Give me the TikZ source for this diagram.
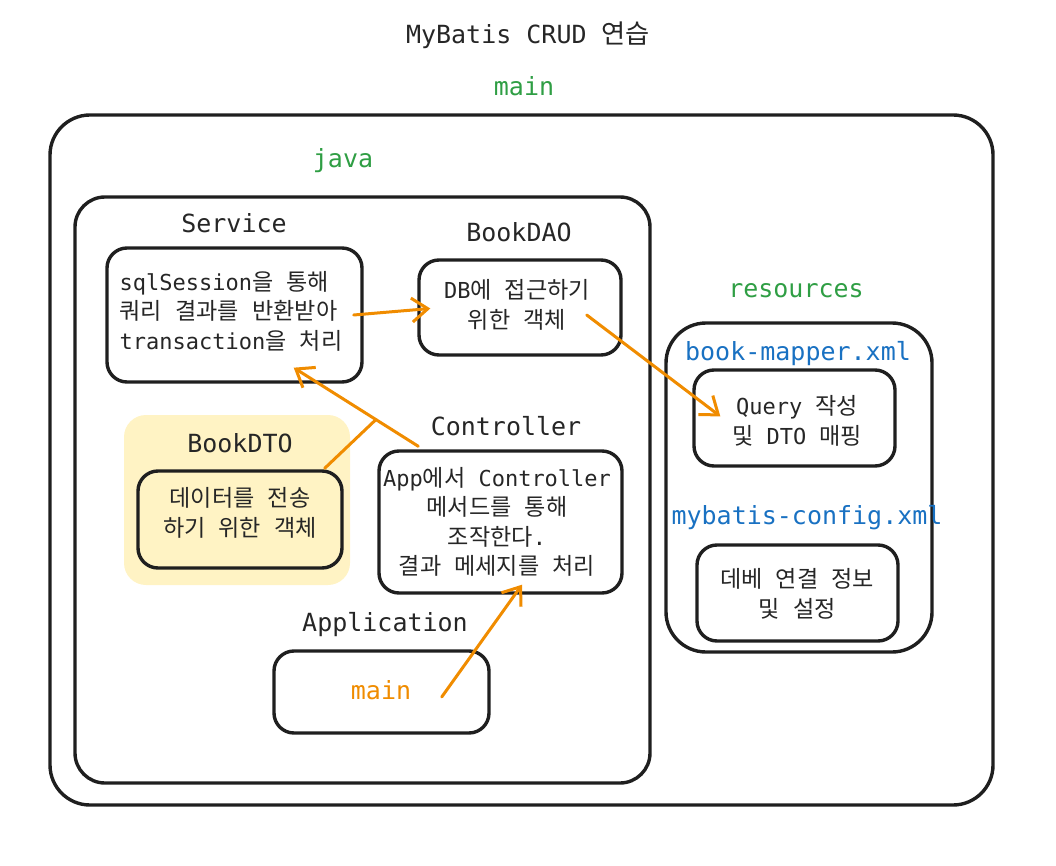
\documentclass[tikz,border=0pt]{standalone}
\usepackage{fontspec}
\setmainfont{DejaVu Sans Mono}
\newfontfamily\krfont[Scale=1.05]{Noto Sans CJK KR}
\newcommand{\kr}[1]{{\krfont #1}}
\usepackage{tikz}
\usetikzlibrary{arrows.meta}
\usetikzlibrary{positioning}
\usetikzlibrary{calc}

\definecolor{mbgreen}{HTML}{2F9E44}
\definecolor{mbblue}{HTML}{1971C2}
\definecolor{mborange}{HTML}{F08C00}
\definecolor{mbyellow}{HTML}{FFF3C4}

\begin{document}
\begin{tikzpicture}[x=1pt, y=-1pt,
    every node/.style={font=\fontsize{25}{29}\selectfont, text=black!85},
    boxtext/.style={font=\fontsize{22}{29.5}\selectfont, align=center},
    box/.style={draw=black!88, line width=3.4pt, rounded corners=20pt, align=center, inner sep=0pt},
    flow/.style={draw=mborange, line width=3pt, line cap=round, -{Straight Barb[length=16pt, width=24pt, line width=3pt]}}]
  \useasboundingbox (0,0) rectangle (1056,866);

  \node (title) at (528, 35) {MyBatis CRUD \kr{연습}};
  \node[text=mbgreen] (mainlabel) at (524, 86) {main};

  % outer frames
  \node[box, rounded corners=40pt, minimum width=943pt, minimum height=690pt] (main) at (521.5, 460) {};
  \node[text=mbgreen] (javalabel) at (343, 161) {java};
  \node[box, rounded corners=30pt, minimum width=575pt, minimum height=586pt] (java) at (362.5, 490) {};
  \node[text=mbgreen] (reslabel) at (796, 291) {resources};
  \node[box, rounded corners=40pt, minimum width=266pt, minimum height=329pt] (res) at (799, 487.5) {};

  % java side
  \node (servicelabel) at (234, 223) {Service};
  \node[box, minimum width=255pt, minimum height=134pt] (service) at (234.5, 315) {};
  \node[boxtext, align=left] (servicetext) at (231, 311) {sqlSession\kr{을} \kr{통해}\\\kr{쿼리} \kr{결과를} \kr{반환받아}\\transaction\kr{을} \kr{처리}};

  \node (daolabel) at (519, 232) {BookDAO};
  \node[box, minimum width=202pt, minimum height=95pt] (dao) at (520, 307.5) {};
  \node[boxtext] (daotext) at (517, 305) {DB\kr{에} \kr{접근하기}\\\kr{위한} \kr{객체}};

  \node[fill=mbyellow, rounded corners=22pt, minimum width=226pt, minimum height=170pt] (dtoarea) at (237, 500) {};
  \node (dtolabel) at (240, 443) {BookDTO};
  \node[box, fill=mbyellow, minimum width=204pt, minimum height=97pt] (dto) at (240, 519.5) {};
  \node[boxtext] (dtotext) at (240, 513) {\kr{데이터를} \kr{전송}\\\kr{하기} \kr{위한} \kr{객체}};

  \node (ctrllabel) at (506, 426) {Controller};
  \node[box, minimum width=243pt, minimum height=142pt] (ctrl) at (500.5, 522) {};
  \node[boxtext] (ctrltext) at (497, 522) {App\kr{에서} Controller\\\kr{메서드를} \kr{통해}\\\kr{조작한다}.\\ \kr{결과} \kr{메세지를} \kr{처리}};

  \node (applabel) at (385, 625) {Application};
  \node[box, minimum width=215pt, minimum height=82pt] (app) at (381.5, 692) {};
  \node[text=mborange] (apptext) at (381, 690) {main};

  % resources side
  \node[text=mbblue] (mapperlabel) at (798, 354) {book-mapper.xml};
  \node[box, minimum width=201pt, minimum height=96pt] (query) at (794.5, 418) {};
  \node[boxtext] (querytext) at (797, 421) {Query \kr{작성}\\\kr{및} DTO \kr{매핑}};

  \node[text=mbblue] (configlabel) at (807, 518) {mybatis-config.xml};
  \node[box, minimum width=201pt, minimum height=96pt] (config) at (797.5, 593) {};
  \node[boxtext] (configtext) at (797, 594) {\kr{데베} \kr{연결} \kr{정보}\\\kr{및} \kr{설정}};

  % connectors
  \draw[flow] ([xshift=-10pt]service.east) -- ([xshift=13pt, yshift=-1pt]dao.west);
  \draw[flow] ([xshift=-36pt, yshift=-7.5pt]dao.east) -- ([xshift=28pt, yshift=-48pt]query.north west);
  \draw[flow] ([xshift=41pt, yshift=3pt]ctrl.north west) -- coordinate[pos=0.34] (junc) ([xshift=-70pt, yshift=16pt]service.south east);
  \draw[draw=mborange, line width=3pt, line cap=round] ([xshift=-19pt, yshift=1pt]dto.north east) -- (junc);
  \draw[flow] ([xshift=-49pt, yshift=-5pt]app.east) -- ([xshift=21.5pt, yshift=10pt]ctrl.south);
\end{tikzpicture}
\end{document}
